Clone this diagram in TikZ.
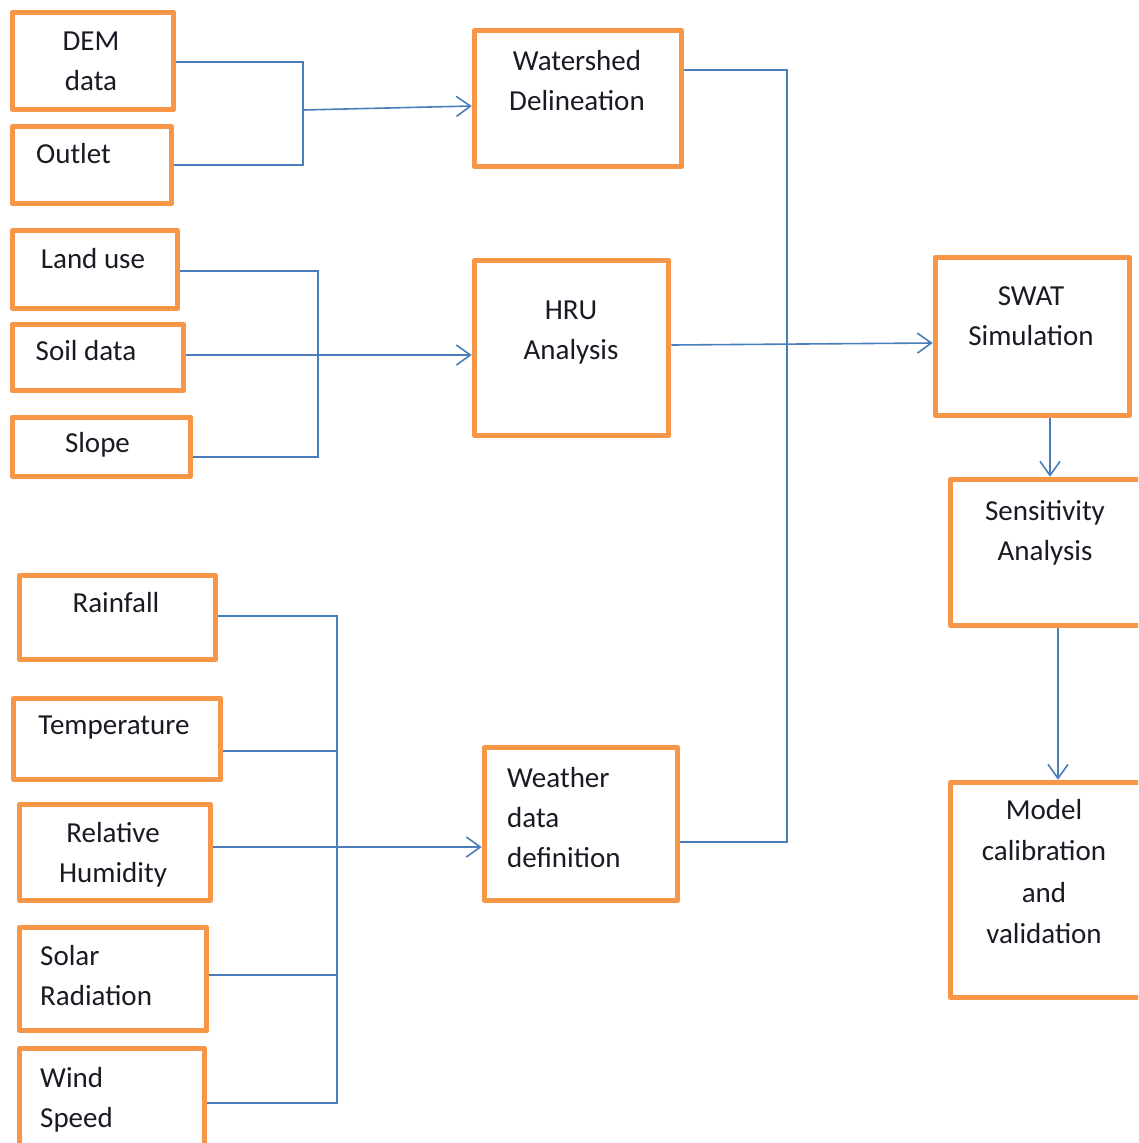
\documentclass[tikz,border=0pt]{standalone}
\usepackage{fontspec}
\setmainfont{Carlito}
\usetikzlibrary{arrows.meta}
\definecolor{boxorange}{HTML}{F79646}
\definecolor{lineblue}{HTML}{4A7EBB}
\definecolor{txtdark}{HTML}{1A1A24}
\newcommand\mkbox[5]{\node[box,minimum width={#4-#2-5},minimum height={#5-#3-5}] (#1) at ({(#2+#4)/2},{(#3+#5)/2}) {};}
\begin{document}
\begin{tikzpicture}[x=1pt,y=-1pt,
  box/.style={draw=boxorange,line width=5.5pt,line join=round,inner sep=0pt,fill=white},
  txt/.style={inner sep=0pt,align=center,text=txtdark,font=\fontsize{29}{40}\selectfont},
  txtl/.style={txt,align=left,anchor=west},
  ln/.style={draw=lineblue,line width=1.6pt},
  arr/.style={ln,-{Straight Barb[length=14pt,width=20pt,line width=1.6pt]}}]
\useasboundingbox (0,0) rectangle (1138,1143);
\clip (0,0) rectangle (1138,1143);
\fill[white] (0,0) rectangle (1138,1143);
% boxes
\mkbox{dem}{10}{10}{176}{112}
\mkbox{outlet}{10}{124}{174}{206}
\mkbox{ws}{472}{28}{684}{169}
\mkbox{land}{10}{228}{180}{311}
\mkbox{soil}{10}{322}{186}{393}
\mkbox{slope}{10}{415}{193}{479}
\mkbox{hru}{472}{258}{671}{438}
\mkbox{swat}{933}{255}{1132}{418}
\mkbox{sens}{948}{477}{1146}{628}
\mkbox{model}{948}{780}{1146}{1000}
\mkbox{rain}{17}{573}{218}{662}
\mkbox{temp}{11}{696}{223}{782}
\mkbox{rh}{17}{802}{213}{903}
\mkbox{solar}{17}{925}{209}{1033}
\mkbox{wind}{17}{1046}{207}{1152}
\mkbox{wd}{482}{745}{680}{903}
% texts
\node[txt] (demt) at (91,62) {\strut DEM\\\strut data};
\node[txt] (outlett) at (73.5,155) {\strut Outlet};
\node[txt] (wst) at (577,82) {\strut Watershed\\\strut Delineation};
\node[txt] (landt) at (93,260) {\strut Land use};
\node[txt] (soilt) at (86,352) {\strut Soil data};
\node[txt] (slopet) at (97.5,444) {\strut Slope};
\node[txt] (hrut) at (571,331.5) {\strut HRU\\\strut Analysis};
\node[txt] (swatt) at (1031,317) {\strut SWAT\\\strut Simulation};
\node[txt] (senst) at (1045,532) {\strut Sensitivity\\\strut Analysis};
\node[txt,font=\fontsize{29}{41.5}\selectfont] (modelt) at (1044,873) {\strut Model\\\strut calibration\\\strut and\\\strut validation};
\node[txt] (raint) at (116,604) {\strut Rainfall};
\node[txt] (tempt) at (114,726) {\strut Temperature};
\node[txt] (rht) at (113,854) {\strut Relative\\\strut Humidity};
\node[txtl] (solart) at (40,977) {\strut Solar\\\strut Radiation};
\node[txtl] (windt) at (40,1099) {\strut Wind\\\strut Speed};
\node[txtl] (wdt) at (507,819) {\strut Weather\\\strut data\\\strut definition};
% junction coordinates
\coordinate (j1) at (303,110);
\coordinate (j1t) at (303,62);
\coordinate (j1b) at (303,165);
\coordinate (j2t) at (318,271);
\coordinate (j2b) at (318,457);
\coordinate (j3t) at (787,70);
\coordinate (j3b) at (787,842);
\coordinate (j4t) at (337,616);
\coordinate (j4b) at (337,1103);
% connectors
\draw[ln] (dem.east |- j1t) -- (j1t) -- (j1b) -- (outlet.east |- j1b);
\draw[arr] (j1) -- (ws.west |- 0,106);
\draw[ln] (land.east |- j2t) -- (j2t) -- (j2b) -- (slope.east |- j2b);
\draw[arr] (soil.east |- 0,355) -- (hru.west |- 0,355);
\draw[ln] (ws.east |- j3t) -- (j3t) -- (j3b) -- (wd.east |- j3b);
\draw[arr] (hru.east |- 0,345) -- (swat.west |- 0,343);
\draw[arr] (swat.south -| 1050,0) -- (sens.north -| 1050,0);
\draw[arr] (sens.south -| 1058,0) -- (model.north -| 1058,0);
\draw[ln] (rain.east |- j4t) -- (j4t) -- (j4b) -- (wind.east |- j4b);
\draw[ln] (temp.east |- 0,751) -- (337,751);
\draw[ln] (solar.east |- 0,975) -- (337,975);
\draw[arr] (rh.east |- 0,847) -- (wd.west |- 0,847);
\end{tikzpicture}
\end{document}
